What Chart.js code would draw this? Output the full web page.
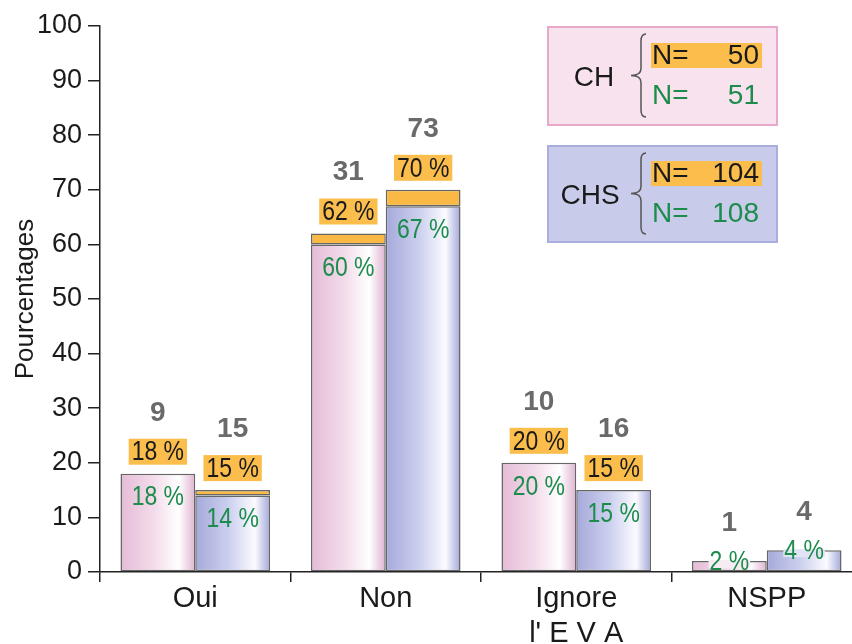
<!DOCTYPE html>
<html>
<head>
<meta charset="utf-8">
<script src="https://cdn.jsdelivr.net/npm/chart.js@4.4.1/dist/chart.umd.min.js"></script>
<style>
  html, body { margin: 0; padding: 0; background: #fff; overflow: hidden; }
  #wrap { width: 862px; height: 644px; }
</style>
</head>
<body>
<div id="wrap"><canvas id="pctChart" width="862" height="644"></canvas></div>
<script>
// categories and values
const categories = ['Oui', 'Non', ['Ignore', "l' E V A"], 'NSPP'];
const chGreen = [18, 60, 20, 2];        // CH, N = 51
const chOrange = [18, 62, 20, null];    // CH, N = 50
const chsGreen = [14, 67, 15, 4];       // CHS, N = 108
const chsOrange = [15, 70, 15, null];   // CHS, N = 104
const chCounts = [9, 31, 10, 1];
const chsCounts = [15, 73, 16, 4];
const yTicks = [0, 10, 20, 30, 40, 50, 60, 70, 80, 90, 100];

const CAT_PCT = 0.785;
const ORANGE = '#f9b944';
const GREEN = '#1b8c4b';
const GREY = '#6a6a6a';

// orange band = difference between the two percentages
const diff = (top, base) => top.map((v, i) => (v === null || v - base[i] === 0) ? null : v - base[i]);

function barGradient(side, stops) {
    return function(ctx) {
        const chart = ctx.chart;
        const xs = chart.scales.x;
        if (!xs || ctx.dataIndex === undefined) return stops[1][1];
        const cx = xs.getPixelForValue(ctx.dataIndex);
        const gw = (xs.right - xs.left) / categories.length * CAT_PCT;
        if (!isFinite(cx) || !isFinite(gw) || gw <= 0) return stops[1][1];
        const x0 = side === 0 ? cx - gw / 2 : cx;
        const g = chart.ctx.createLinearGradient(x0, 0, x0 + gw / 2, 0);
        stops.forEach(s => g.addColorStop(s[0], s[1]));
        return g;
    };
}

const pinkStops = [[0, '#e5bbd7'], [0.45, '#f3dcea'], [0.78, '#ffffff'], [1, '#dfb3d0']];
const blueStops = [[0, '#a5a9da'], [0.45, '#ccd0ee'], [0.8, '#fbfbff'], [1, '#a2a7d9']];

function condensedText(c, txt, x, y, font, color, align) {
    c.save();
    c.font = font;
    c.fillStyle = color;
    c.textAlign = align || 'center';
    c.textBaseline = 'middle';
    c.translate(x, y);
    c.scale(0.82, 1);
    c.fillText(txt, 0, 0);
    c.restore();
}

// labels above / inside the bars
const barLabels = {
    id: 'barLabels',
    afterDatasetsDraw(chart) {
        const c = chart.ctx;
        const pctFont = '28px "Liberation Sans", Arial, sans-serif';
        const sides = [
            { g: 0, o: 1, green: chGreen, orange: chOrange, counts: chCounts },
            { g: 2, o: 3, green: chsGreen, orange: chsOrange, counts: chsCounts }
        ];
        sides.forEach(s => {
            const gMeta = chart.getDatasetMeta(s.g).data;
            const oMeta = chart.getDatasetMeta(s.o).data;
            categories.forEach((cat, i) => {
                const gEl = gMeta[i];
                const x = gEl.x;
                const greenTop = gEl.y;
                let top = greenTop;
                if (oMeta[i] && s.orange[i] !== null && s.orange[i] !== s.green[i]) top = Math.min(top, oMeta[i].y);
                c.save();
                c.textAlign = 'center';
                c.textBaseline = 'alphabetic';
                c.font = 'bold 28px "Liberation Sans", Arial, sans-serif';
                c.fillStyle = GREY;
                if (s.orange[i] !== null) {
                    // orange % label with background
                    const txt = s.orange[i] + ' %';
                    c.font = pctFont;
                    const w = c.measureText(txt).width * 0.82 + 6;
                    const bBot = top - 9, bTop = top - 35;
                    c.fillStyle = '#fbbd4c';
                    c.fillRect(x - w / 2, bTop, w, bBot - bTop);
                    condensedText(c, txt, x, (bTop + bBot) / 2 + 1, pctFont, '#1a1a1a');
                    c.font = 'bold 28px "Liberation Sans", Arial, sans-serif';
                    c.fillStyle = GREY;
                    c.fillText(String(s.counts[i]), x, bTop - 18);
                    condensedText(c, s.green[i] + ' %', x, greenTop + 24, pctFont, GREEN);
                } else {
                    c.fillText(String(s.counts[i]), x, top - 30);
                    c.font = pctFont;
                    const w = c.measureText(s.green[i] + ' %').width * 0.82 + 2;
                    c.fillStyle = s.g === 0 ? '#f8ecf3' : '#e2e4f5';
                    c.fillRect(x - w / 2, top - 1, w, 8);
                    condensedText(c, s.green[i] + ' %', x, top + 1, pctFont, GREEN);
                }
                c.restore();
            });
        });
    }
};

function brace(c, xTip, xArm, yTop, yBot) {
    const ym = (yTop + yBot) / 2;
    c.beginPath();
    c.moveTo(xArm + 5, yTop);
    c.quadraticCurveTo(xArm, yTop, xArm, yTop + 7);
    c.lineTo(xArm, ym - 7);
    c.quadraticCurveTo(xArm, ym, xTip, ym);
    c.quadraticCurveTo(xArm, ym, xArm, ym + 7);
    c.lineTo(xArm, yBot - 7);
    c.quadraticCurveTo(xArm, yBot, xArm + 5, yBot);
    c.stroke();
}

// CH / CHS legend boxes, top right
const legendBoxes = {
    id: 'legendBoxes',
    afterDraw(chart) {
        const c = chart.ctx;
        const font = '28px "Liberation Sans", Arial, sans-serif';
        const boxes = [
            { name: 'CH', y: 27, h: 98, fill: '#f7e2ee', stroke: '#e8a8ca', n1: '50', n2: '51' },
            { name: 'CHS', y: 146, h: 96, fill: '#c8cbe9', stroke: '#a9aede', n1: '104', n2: '108' }
        ];
        boxes.forEach(b => {
            c.save();
            c.fillStyle = b.fill;
            c.fillRect(548, b.y, 229, b.h);
            c.strokeStyle = b.stroke;
            c.lineWidth = 2;
            c.strokeRect(548, b.y, 229, b.h);
            const mid = b.y + b.h / 2;
            c.font = font;
            c.textBaseline = 'middle';
            c.textAlign = 'center';
            c.fillStyle = '#1a1a1a';
            c.fillText(b.name, b.name === 'CH' ? 594 : 590, mid + 2);
            c.strokeStyle = '#555';
            c.lineWidth = 1.5;
            brace(c, 631, 641, b.y + 7, b.y + b.h - 8);
            // orange highlighted line
            c.fillStyle = '#fbbd4c';
            c.fillRect(651, mid - 33, 111, 25);
            c.fillStyle = '#1a1a1a';
            c.textAlign = 'left';
            c.fillText('N=', 652, mid - 20);
            c.textAlign = 'right';
            c.fillText(b.n1, 759, mid - 20);
            c.fillStyle = GREEN;
            c.textAlign = 'left';
            c.fillText('N=', 652, mid + 20);
            c.textAlign = 'right';
            c.fillText(b.n2, 759, mid + 20);
            c.restore();
        });
    }
};

const common = {
    borderColor: '#666',
    borderWidth: 1.5,
    borderSkipped: false,
    barPercentage: 1,
    categoryPercentage: CAT_PCT
};

new Chart(document.getElementById('pctChart'), {
    type: 'bar',
    data: {
        labels: categories,
        datasets: [
            Object.assign({ label: 'CH N=51', data: chGreen, stack: 'CH', backgroundColor: barGradient(0, pinkStops) }, common),
            Object.assign({ label: 'CH N=50', data: diff(chOrange, chGreen), stack: 'CH', backgroundColor: ORANGE }, common),
            Object.assign({ label: 'CHS N=108', data: chsGreen, stack: 'CHS', backgroundColor: barGradient(1, blueStops) }, common),
            Object.assign({ label: 'CHS N=104', data: diff(chsOrange, chsGreen), stack: 'CHS', backgroundColor: ORANGE }, common)
        ]
    },
    options: {
        responsive: false,
        animation: false,
        layout: { padding: { top: 26, left: 0, right: 0, bottom: 0 } },
        plugins: {
            legend: { display: false },
            tooltip: { enabled: false }
        },
        scales: {
            x: {
                stacked: true,
                afterFit: (s) => { s.height = 72; },
                grid: { offset: true, drawOnChartArea: false, tickLength: 10, color: '#222', lineWidth: 1.5 },
                border: { color: '#222', width: 1.5 },
                ticks: {
                    color: '#1a1a1a',
                    padding: 0,
                    maxRotation: 0,
                    font: { family: '"Liberation Sans", Arial, sans-serif', size: 29 }
                }
            },
            y: {
                stacked: true,
                min: 0,
                max: 100,
                afterFit: (s) => { s.width = 100; },
                afterBuildTicks: (s) => { s.ticks = yTicks.map(v => ({ value: v })); },
                grid: { drawOnChartArea: false, tickLength: 12, color: '#222', lineWidth: 1.5 },
                border: { color: '#222', width: 1.5 },
                title: {
                    display: true,
                    text: 'Pourcentages',
                    color: '#1a1a1a',
                    padding: { top: 10, bottom: 0 },
                    font: { family: '"Liberation Sans", Arial, sans-serif', size: 26 }
                },
                ticks: {
                    color: '#1a1a1a',
                    padding: 6,
                    font: { family: '"Liberation Sans", Arial, sans-serif', size: 27 }
                }
            }
        }
    },
    plugins: [barLabels, legendBoxes]
});
</script>
</body>
</html>
